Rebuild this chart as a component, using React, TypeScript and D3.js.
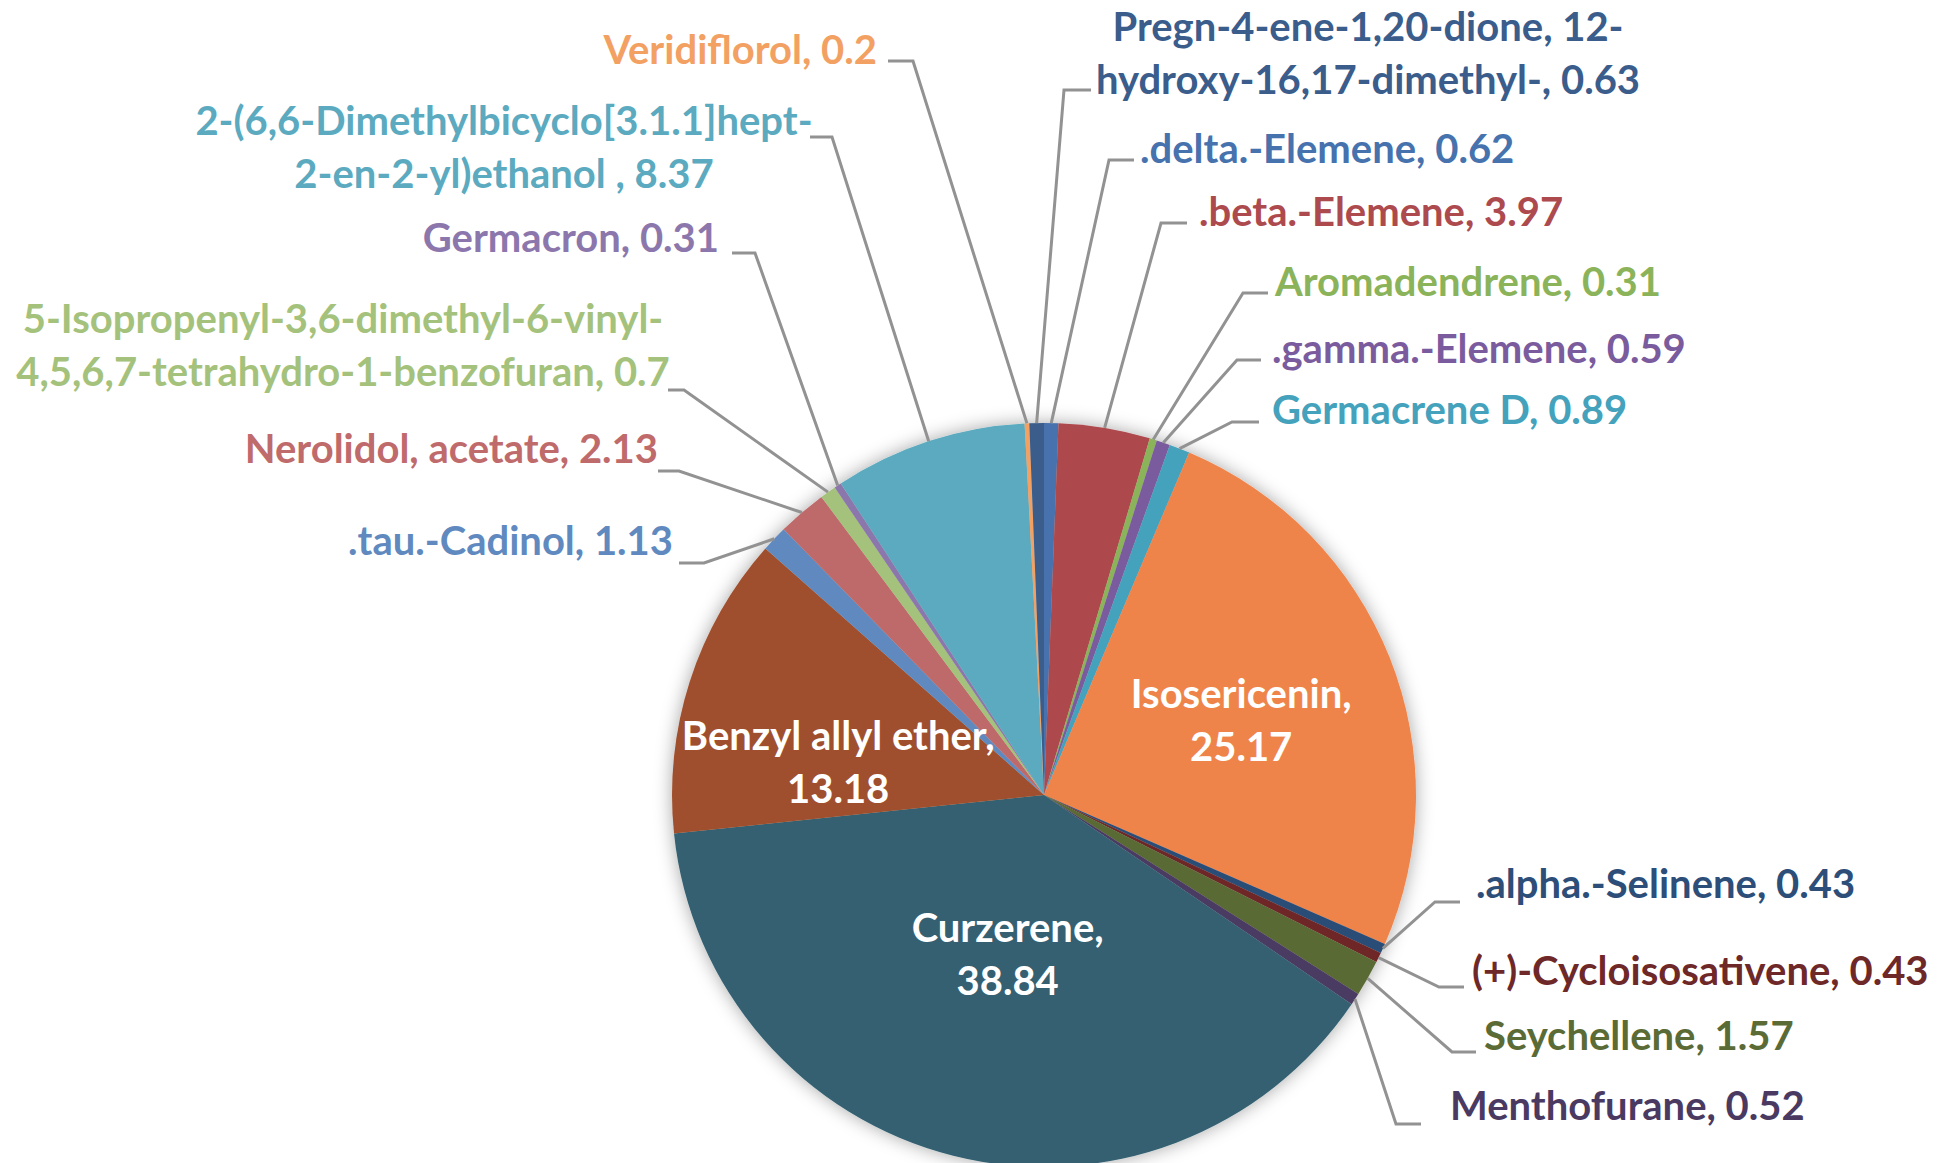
import React from 'react';
import * as d3 from 'd3';

// slices in drawing order, clockwise from 12 o'clock
const compounds = [
  '.delta.-Elemene',
  '.beta.-Elemene',
  'Aromadendrene',
  '.gamma.-Elemene',
  'Germacrene D',
  'Isosericenin',
  '.alpha.-Selinene',
  '(+)-Cycloisosativene',
  'Seychellene',
  'Menthofurane',
  'Curzerene',
  'Benzyl allyl ether',
  '.tau.-Cadinol',
  'Nerolidol, acetate',
  '5-Isopropenyl-3,6-dimethyl-6-vinyl-4,5,6,7-tetrahydro-1-benzofuran',
  'Germacron',
  '2-(6,6-Dimethylbicyclo[3.1.1]hept-2-en-2-yl)ethanol ',
  'Veridiflorol',
  'Pregn-4-ene-1,20-dione, 12-hydroxy-16,17-dimethyl-',
];

const percents = [
  0.62, 3.97, 0.31, 0.59, 0.89, 25.17, 0.43, 0.43, 1.57, 0.52,
  38.84, 13.18, 1.13, 2.13, 0.7, 0.31, 8.37, 0.2, 0.63,
];

const sliceColors = [
  '#4672ae', '#ad4a4d', '#8bb35a', '#7a5c9e', '#44a2bc', '#ef844c',
  '#2c4e78', '#6e2828', '#5a6b35', '#4a3a62', '#346172', '#a0502d',
  '#608abf', '#bf6a6b', '#a4c27b', '#8c77ad', '#5baabf', '#f3a063', '#3a5d8c',
];

const W = 1942;
const H = 1163;
const CX = 1044;
const CY = 795;
const R = 372;
const FONT = 'Lato, "Open Sans", sans-serif';
const FS = 40;
const LINE_GAP = 53;

// label placement (Excel's manual layout), keyed by compound name
// tx/ty = text anchor point + first baseline, ex/ey = leader elbow, tip = end of horizontal run
const outsideLayout: Record<string, any> = {
  '.delta.-Elemene': { tx: 1140, ty: 163, anchor: 'start', ex: 1109, ey: 160, tip: 1134 },
  '.beta.-Elemene': { tx: 1199, ty: 226, anchor: 'start', ex: 1161, ey: 223, tip: 1187 },
  'Aromadendrene': { tx: 1275, ty: 296, anchor: 'start', ex: 1243, ey: 293, tip: 1268 },
  '.gamma.-Elemene': { tx: 1272, ty: 363, anchor: 'start', ex: 1237, ey: 360, tip: 1261 },
  'Germacrene D': { tx: 1272, ty: 424, anchor: 'start', ex: 1232, ey: 422, tip: 1259 },
  '.alpha.-Selinene': { tx: 1476, ty: 898, anchor: 'start', ex: 1435, ey: 902, tip: 1460 },
  '(+)-Cycloisosativene': { tx: 1472, ty: 985, anchor: 'start', ex: 1439, ey: 987, tip: 1464 },
  'Seychellene': { tx: 1484, ty: 1050, anchor: 'start', ex: 1452, ey: 1052, tip: 1476 },
  'Menthofurane': { tx: 1450, ty: 1120, anchor: 'start', ex: 1396, ey: 1124, tip: 1421 },
  '.tau.-Cadinol': { tx: 673, ty: 555, anchor: 'end', ex: 704, ey: 563, tip: 679 },
  'Nerolidol, acetate': { tx: 658, ty: 463, anchor: 'end', ex: 679, ey: 471, tip: 658 },
  '5-Isopropenyl-3,6-dimethyl-6-vinyl-4,5,6,7-tetrahydro-1-benzofuran': {
    tx: 343, ty: 333, anchor: 'middle', ex: 684, ey: 390, tip: 668,
    wrap: '5-Isopropenyl-3,6-dimethyl-6-vinyl-',
  },
  'Germacron': { tx: 719, ty: 252, anchor: 'end', ex: 755, ey: 253, tip: 732 },
  '2-(6,6-Dimethylbicyclo[3.1.1]hept-2-en-2-yl)ethanol ': {
    tx: 504, ty: 135, anchor: 'middle', ex: 832, ey: 137, tip: 810,
    wrap: '2-(6,6-Dimethylbicyclo[3.1.1]hept-',
  },
  'Veridiflorol': { tx: 877, ty: 64, anchor: 'end', ex: 913, ey: 61, tip: 888 },
  'Pregn-4-ene-1,20-dione, 12-hydroxy-16,17-dimethyl-': {
    tx: 1368, ty: 41, anchor: 'middle', ex: 1064, ey: 90, tip: 1091,
    wrap: 'Pregn-4-ene-1,20-dione, 12-',
  },
};

// labels drawn inside the big slices: radius fraction and angular nudge (deg)
const insideLayout: Record<string, { rf: number; da: number }> = {
  'Isosericenin': { rf: 0.567, da: 0.9 },
  'Curzerene': { rf: 0.44, da: -1.3 },
  'Benzyl allyl ether': { rf: 0.56, da: -8.9 },
};

function labelLines(name: string, value: number, wrap?: string) {
  const full = `${name}, ${value}`;
  if (!wrap) return [full];
  return [wrap, full.slice(wrap.length)];
}

export default function App() {
  const pie = d3.pie<number>().sort(null).value((d) => d).startAngle(0).endAngle(2 * Math.PI);
  const arcs = pie(percents);
  const arcGen = d3.arc<d3.PieArcDatum<number>>().innerRadius(0).outerRadius(R);

  return (
    <svg
      width={W}
      height={H}
      viewBox={`0 0 ${W} ${H}`}
      style={{ position: 'absolute', top: 0, left: 0, background: '#fff' }}
    >
      <defs>
        <filter id="pieShadow" x="-20%" y="-20%" width="140%" height="140%">
          <feDropShadow dx="0" dy="0" stdDeviation="9" floodColor="#000" floodOpacity="0.35" />
        </filter>
      </defs>

      <g transform={`translate(${CX},${CY})`} filter="url(#pieShadow)">
        {arcs.map((a, i) => (
          <path key={compounds[i]} d={arcGen(a) || ''} fill={sliceColors[i]} />
        ))}
      </g>

      {/* leader lines */}
      <g fill="none" stroke="#929292" strokeWidth={3}>
        {arcs.map((a, i) => {
          const lay = outsideLayout[compounds[i]];
          if (!lay) return null;
          const mid = (a.startAngle + a.endAngle) / 2;
          const px = CX + Math.sin(mid) * R;
          const py = CY - Math.cos(mid) * R;
          return (
            <polyline
              key={compounds[i]}
              points={`${px},${py} ${lay.ex},${lay.ey} ${lay.tip},${lay.ey}`}
            />
          );
        })}
      </g>

      {/* outside labels */}
      <g fontFamily={FONT} fontWeight={700} fontSize={FS}>
        {arcs.map((a, i) => {
          const lay = outsideLayout[compounds[i]];
          if (!lay) return null;
          const lines = labelLines(compounds[i], percents[i], lay.wrap);
          return (
            <text key={compounds[i]} x={lay.tx} y={lay.ty} textAnchor={lay.anchor} fill={sliceColors[i]}>
              {lines.map((ln, j) => (
                <tspan key={j} x={lay.tx} y={lay.ty + j * LINE_GAP} style={{ whiteSpace: 'pre' }}>
                  {ln}
                </tspan>
              ))}
            </text>
          );
        })}
      </g>

      {/* inside labels */}
      <g fontFamily={FONT} fontWeight={700} fontSize={FS} fill="#fff" textAnchor="middle">
        {arcs.map((a, i) => {
          const lay = insideLayout[compounds[i]];
          if (!lay) return null;
          const ang = (a.startAngle + a.endAngle) / 2 + (lay.da * Math.PI) / 180;
          const x = CX + Math.sin(ang) * R * lay.rf;
          const y = CY - Math.cos(ang) * R * lay.rf;
          const y0 = y - LINE_GAP / 2 + 14;
          return (
            <text key={compounds[i]} x={x} y={y0}>
              <tspan x={x} y={y0}>{`${compounds[i]},`}</tspan>
              <tspan x={x} y={y0 + LINE_GAP}>{`${percents[i]}`}</tspan>
            </text>
          );
        })}
      </g>
    </svg>
  );
}
